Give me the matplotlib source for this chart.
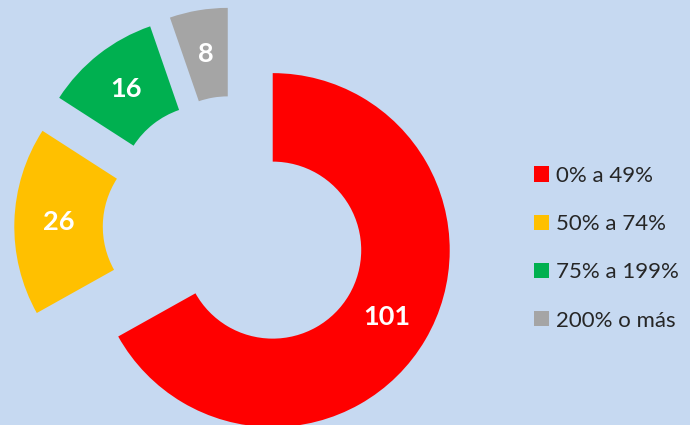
import numpy as np
import matplotlib.pyplot as plt
from matplotlib.patches import Patch

categories = ['0% a 49%', '50% a 74%', '75% a 199%', '200% o más']
values = [101, 26, 16, 8]
colors = ['#FF0000', '#FFC000', '#00B050', '#A5A5A5']
bg = '#C6D9F1'

fig = plt.figure(figsize=(6.9, 4.25), dpi=100)
fig.patch.set_facecolor(bg)
ax = fig.add_axes([0, 0, 1, 1])
ax.set_facecolor(bg)

px = 177.0  # pixels per unit radius
cx, cy = 235.0, 228.0  # centre in screen px (y from top)

wedges, _ = ax.pie(values, colors=colors, startangle=90, counterclock=False,
                   radius=1.0, explode=[0.247] * len(values),
                   wedgeprops=dict(width=0.5, linewidth=0))
ax.set_aspect('auto')
ax.set_xlim(-cx / px, (690 - cx) / px)
ax.set_ylim(-(425 - cy) / px, cy / px)
ax.axis('off')

for w, v in zip(wedges, values):
    ang = np.deg2rad((w.theta1 + w.theta2) / 2)
    r = 0.75
    x = w.center[0] + r * np.cos(ang)
    y = w.center[1] + r * np.sin(ang)
    ax.text(x, y, str(v), ha='center', va='center', color='white',
            fontsize=19.5, fontweight='bold', family=['Lato', 'DejaVu Sans'])

handles = [Patch(facecolor=c, edgecolor='none') for c in colors]
leg = ax.legend(handles, categories, loc='upper left', bbox_to_anchor=(525 / 690, 1 - 157 / 425),
                frameon=False, handlelength=0.68, handleheight=0.68, handletextpad=0.3,
                labelspacing=1.27, borderaxespad=0,
                prop=dict(family=['Lato', 'DejaVu Sans'], size=16))
for t in leg.get_texts():
    t.set_color('#262626')

fig.savefig('out.png', dpi=100, facecolor=bg)
